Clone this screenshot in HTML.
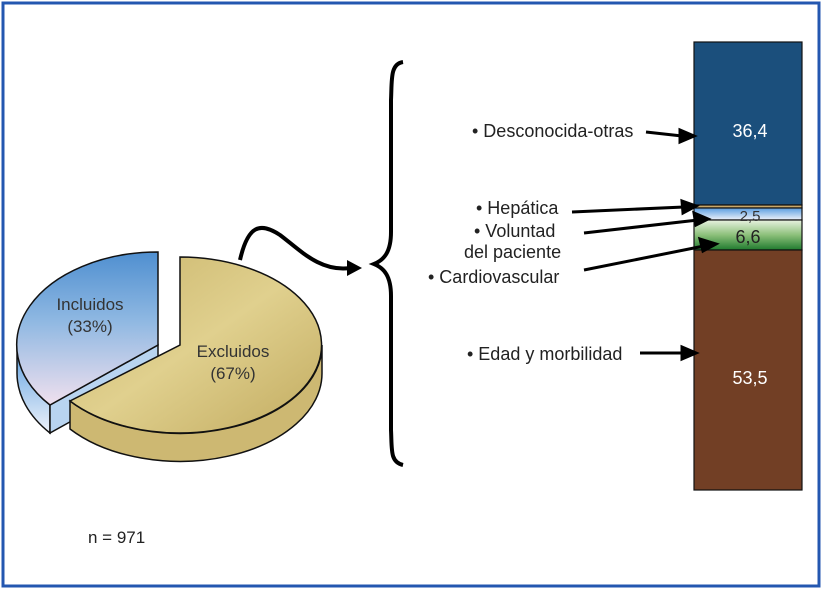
<!DOCTYPE html>
<html><head><style>
html,body{margin:0;padding:0;background:#fff;}
svg{display:block;font-family:"Liberation Sans",sans-serif;}
</style></head><body>
<svg width="823" height="590" viewBox="0 0 823 590">
<defs>
<linearGradient id="bl" x1="0" y1="0" x2="0" y2="1">
<stop offset="0" stop-color="#4f8fd0"/><stop offset="0.45" stop-color="#8fb8e2"/><stop offset="1" stop-color="#f0e0ee"/></linearGradient>
<linearGradient id="gd" x1="0" y1="0" x2="1" y2="1">
<stop offset="0" stop-color="#c9b46a"/><stop offset="0.5" stop-color="#e0d08e"/><stop offset="1" stop-color="#c2ab60"/></linearGradient>
<linearGradient id="gr" x1="0" y1="0" x2="0" y2="1">
<stop offset="0" stop-color="#e8f2e0"/><stop offset="0.5" stop-color="#8cc07a"/><stop offset="1" stop-color="#1f7a2e"/></linearGradient>
<linearGradient id="lb" x1="0" y1="0" x2="0" y2="1">
<stop offset="0" stop-color="#5a9ee0"/><stop offset="1" stop-color="#eef2fa"/></linearGradient>
</defs>
<rect x="3" y="3" width="816" height="583" fill="none" stroke="#2457b0" stroke-width="3"/>
<!-- blue slice -->
<g stroke="#111" stroke-width="1.5">
<path d="M17,345 L17,373 A141,93 0 0 0 50,433 L50,405 A141,93 0 0 1 17,345 Z" fill="url(#lb)"/>
<path d="M50,405 L50,433 L158,373 L158,345 Z" fill="#b8d4f0"/>
<path d="M158,345 L158,252 A141,93 0 0 0 50,405 Z" fill="url(#bl)"/>
</g>
<!-- gold slice -->
<g stroke="#111" stroke-width="1.5">
<path d="M70,401 L70,429 A142,88 0 0 0 322,373 L322,345 A142,88 0 0 1 70,401 Z" fill="#cdb872"/>
<path d="M180,345 L180,257 A142,88 0 1 1 70,401 Z" fill="url(#gd)"/>
</g>
<text x="90" y="310" font-size="17" fill="#333" text-anchor="middle">Incluidos</text>
<text x="90" y="332" font-size="17" fill="#333" text-anchor="middle">(33%)</text>
<text x="233" y="357" font-size="17" fill="#333" text-anchor="middle">Excluidos</text>
<text x="233" y="379" font-size="17" fill="#333" text-anchor="middle">(67%)</text>
<text x="88" y="543" font-size="17" fill="#222">n = 971</text>
<!-- wavy arrow -->
<path d="M240,260 C248,225 260,222 280,235 C300,250 320,272 350,268" fill="none" stroke="#000" stroke-width="4"/>
<polygon points="347,260 362,268 347,276" fill="#000"/>
<!-- brace -->
<path d="M403,62 C390,64 392,80 391,100 L391,232 C391,252 384,260 374,264 C384,268 391,276 391,296 L391,430 C392,450 390,462 403,465" fill="none" stroke="#000" stroke-width="4"/>
<!-- bar -->
<g stroke="#111" stroke-width="1.2">
<rect x="694" y="42" width="108" height="163" fill="#1b4f7c"/>
<rect x="694" y="205" width="108" height="3" fill="#c8a86a"/>
<rect x="694" y="208" width="108" height="12" fill="url(#lb)"/>
<rect x="694" y="220" width="108" height="30" fill="url(#gr)"/>
<rect x="694" y="250" width="108" height="240" fill="#723f25"/>
</g>
<text x="750" y="137" font-size="18" fill="#fff" text-anchor="middle">36,4</text>
<text x="750" y="221" font-size="15" fill="#333" text-anchor="middle">2,5</text>
<text x="748" y="243" font-size="18" fill="#222" text-anchor="middle">6,6</text>
<text x="750" y="384" font-size="18" fill="#fff" text-anchor="middle">53,5</text>
<!-- labels -->
<g font-size="18" fill="#222">
<text x="472" y="137">• Desconocida-otras</text>
<text x="476" y="214">• Hepática</text>
<text x="474" y="237">• Voluntad</text>
<text x="464" y="258">del paciente</text>
<text x="428" y="283">• Cardiovascular</text>
<text x="467" y="360">• Edad y morbilidad</text>
</g>
<g stroke="#000" stroke-width="3" fill="#000">
<line x1="646" y1="132" x2="682" y2="136"/><polygon points="680,130 694,136 680,142"/>
<line x1="572" y1="212" x2="684" y2="207"/><polygon points="682,201 696,206 683,213"/>
<line x1="584" y1="233" x2="698" y2="220"/><polygon points="694,213 708,219 696,225"/>
<line x1="584" y1="270" x2="704" y2="246"/><polygon points="700,239 716,244 703,251"/>
<line x1="640" y1="353" x2="684" y2="353"/><polygon points="682,347 696,353 682,359"/>
</g>
</svg>
</body></html>
